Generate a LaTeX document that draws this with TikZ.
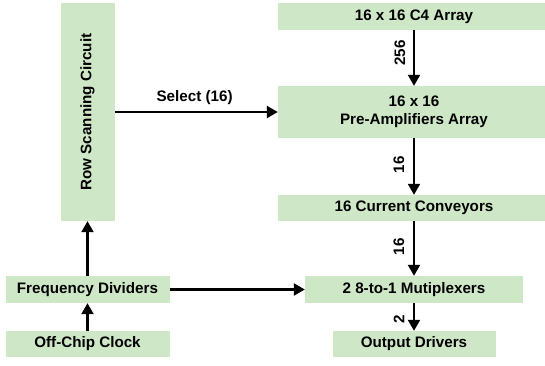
\documentclass[tikz,border=0pt]{standalone}
\usepackage{fontspec}
\setmainfont{Liberation Sans}
\usetikzlibrary{arrows.meta}
\definecolor{boxgreen}{RGB}{206,232,199}
\tikzset{
  box/.style={fill=boxgreen, draw=none, inner sep=0pt, align=center,
    font=\fontsize{15.2}{18}\selectfont\bfseries},
  arr/.style={line width=2.2pt, -{Triangle[length=11pt,width=12pt]}},
  lab/.style={font=\fontsize{15.2}{18}\selectfont\bfseries, inner sep=0pt}
}
\begin{document}
\begin{tikzpicture}[x=1pt,y=-1pt]
\clip (0,0) rectangle (545,365);
\fill[white] (0,0) rectangle (545,365);
\node[box, minimum width=54pt, minimum height=218pt] (row) at (87.5,112) {\rotatebox{90}{Row Scanning Circuit}};
\node[box, minimum width=272pt, minimum height=27pt] (c4) at (414,16.5) {16 x 16 C4 Array};
\node[box, minimum width=272pt, minimum height=52pt] (pre) at (414,112) {16 x 16\\Pre-Amplifiers Array};
\node[box, minimum width=272pt, minimum height=26pt] (cc) at (414,208) {16 Current Conveyors};
\node[box, minimum width=218pt, minimum height=27pt] (mux) at (414,289.5) {2 8-to-1 Mutiplexers};
\node[box, minimum width=163pt, minimum height=26pt] (od) at (414,344) {Output Drivers};
\node[box, minimum width=164pt, minimum height=27pt] (freq) at (87.5,289.5) {Frequency Dividers};
\node[box, minimum width=164pt, minimum height=26pt] (clk) at (87.5,344) {Off-Chip Clock};

\draw[arr] (c4.south) -- node[lab, pos=0.41, xshift=-14pt, rotate=90] {256} (pre.north);
\draw[arr] (pre.south) -- node[lab, pos=0.47, xshift=-15pt, rotate=90] {16} (cc.north);
\draw[arr] (cc.south) -- node[lab, pos=0.47, xshift=-15pt, rotate=90] {16} (mux.north);
\draw[arr] (mux.south) -- node[lab, pos=0.57, xshift=-15pt, rotate=90] {2} (od.north);
\draw[arr] (row.east) -- node[lab, pos=0.49, yshift=14.3pt] {Select (16)} (pre.west);
\draw[arr] (freq.east) -- (mux.west);
\draw[arr] (freq.north) -- (row.south);
\draw[arr] (clk.north) -- (freq.south);
\end{tikzpicture}
\end{document}
